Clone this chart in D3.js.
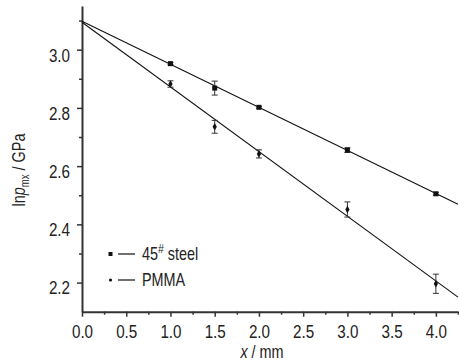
<!DOCTYPE html>
<html><head><meta charset="utf-8">
<script src="https://cdn.jsdelivr.net/npm/d3@7"></script>
<style>
html,body{margin:0;padding:0;background:#fff;}
svg{display:block;}
text{font-family:"Liberation Sans",Arial,sans-serif;fill:#222;}
</style></head>
<body>
<svg id="c" width="459" height="363"></svg>
<script>
const xs = [1.0, 1.5, 2.0, 3.0, 4.0];
const steelY = [2.952, 2.868, 2.802, 2.655, 2.505];
const steelErr = [0.004, 0.024, 0.003, 0.008, 0.005];
const pmmaY = [2.882, 2.735, 2.642, 2.451, 2.196];
const pmmaErr = [0.011, 0.022, 0.014, 0.026, 0.033];
const steelFit = [[0, 3.098], [4.25, 2.469]];
const pmmaFit = [[0, 3.094], [4.25, 2.150]];
const xTicks = [0, 0.5, 1.0, 1.5, 2.0, 2.5, 3.0, 3.5, 4.0];
const xMinor = [0.25, 0.75, 1.25, 1.75, 2.25, 2.75, 3.25, 3.75, 4.25];
const yTicks = [2.2, 2.4, 2.6, 2.8, 3.0];
const yMinor = [2.3, 2.5, 2.7, 2.9, 3.1];
const seriesNames = ["45", "PMMA"];

const SX = 0.8; // condensed glyph width
const svg = d3.select("#c");
const x = d3.scaleLinear().domain([0, 4.25]).range([82, 458]);
const y = d3.scaleLinear().domain([2.1, 3.15]).range([311.7, 6]);
const axisColor = "#333";

// X axis
const gx = svg.append("g").attr("transform", `translate(0,${y(2.1)})`);
gx.call(d3.axisBottom(x).tickValues(xTicks).tickSize(5).tickSizeOuter(0).tickFormat(d3.format(".1f")));
gx.call(g => g.select(".domain").attr("stroke", axisColor).attr("stroke-width", 2));
gx.selectAll(".tick line").attr("stroke", axisColor).attr("stroke-width", 1.5);
gx.selectAll(".tick text").attr("font-size", 19).attr("dy", "0.92em").attr("y", 9)
  .attr("transform", `scale(${SX},1)`)
  .attr("font-family", '"Liberation Sans",Arial,sans-serif').attr("fill", "#222");
const gxm = svg.append("g").attr("transform", `translate(0,${y(2.1)})`);
gxm.call(d3.axisBottom(x).tickValues(xMinor).tickSize(3).tickSizeOuter(0).tickFormat(""));
gxm.select(".domain").remove();
gxm.selectAll(".tick line").attr("stroke", axisColor).attr("stroke-width", 1.5);

// Y axis
const gy = svg.append("g").attr("transform", `translate(${x(0)},0)`);
gy.call(d3.axisLeft(y).tickValues(yTicks).tickSize(5).tickSizeOuter(0).tickFormat(d3.format(".1f")));
gy.call(g => g.select(".domain").attr("stroke", axisColor).attr("stroke-width", 2));
gy.selectAll(".tick line").attr("stroke", axisColor).attr("stroke-width", 1.5);
gy.selectAll(".tick text").attr("font-size", 19).attr("x", -12 / SX).attr("dy", "0.6em")
  .attr("transform", `scale(${SX},1)`)
  .attr("font-family", '"Liberation Sans",Arial,sans-serif').attr("fill", "#222");
const gym = svg.append("g").attr("transform", `translate(${x(0)},0)`);
gym.call(d3.axisLeft(y).tickValues(yMinor).tickSize(3).tickSizeOuter(0).tickFormat(""));
gym.select(".domain").remove();
gym.selectAll(".tick line").attr("stroke", axisColor).attr("stroke-width", 1.5);

// Fit lines
const line = d3.line().x(d => x(d[0])).y(d => y(d[1]));
[steelFit, pmmaFit].forEach(f => {
  svg.append("path").attr("d", line(f)).attr("fill", "none").attr("stroke", "#111").attr("stroke-width", 1.1);
});

// Error bars and markers
function drawSeries(vals, errs, shape) {
  const g = svg.append("g");
  xs.forEach((xv, i) => {
    const cx = x(xv), y1 = y(vals[i] + errs[i]), y2 = y(vals[i] - errs[i]);
    g.append("line").attr("x1", cx).attr("x2", cx).attr("y1", y1).attr("y2", y2).attr("stroke", "#333").attr("stroke-width", 1);
    [y1, y2].forEach(yy => g.append("line").attr("x1", cx - 3).attr("x2", cx + 3).attr("y1", yy).attr("y2", yy).attr("stroke", "#333").attr("stroke-width", 1));
    const cy = y(vals[i]);
    if (shape === "square") {
      g.append("rect").attr("x", cx - 2.5).attr("y", cy - 2.5).attr("width", 5).attr("height", 5).attr("fill", "#111");
    } else {
      g.append("path").attr("d", d3.symbol(d3.symbolDiamond, 16)()).attr("transform", `translate(${cx},${cy})`).attr("fill", "#111");
    }
  });
}
drawSeries(steelY, steelErr, "square");
drawSeries(pmmaY, pmmaErr, "diamond");

// Legend
const lg = svg.append("g");
lg.append("rect").attr("x", 108.5).attr("y", 252).attr("width", 4).attr("height", 4).attr("fill", "#111");
lg.append("line").attr("x1", 118).attr("x2", 135).attr("y1", 254).attr("y2", 254).attr("stroke", "#111").attr("stroke-width", 1.2);
const t1 = lg.append("text").attr("transform", `translate(142,260) scale(${SX},1)`).attr("font-size", 18);
t1.append("tspan").text(seriesNames[0]);
t1.append("tspan").text("#").attr("font-size", 13).attr("dy", -7);
t1.append("tspan").text(" steel").attr("dy", 7);
lg.append("circle").attr("cx", 110.5).attr("cy", 280).attr("r", 1.6).attr("fill", "#111");
lg.append("line").attr("x1", 118).attr("x2", 135).attr("y1", 280).attr("y2", 280).attr("stroke", "#111").attr("stroke-width", 1.2);
lg.append("text").attr("transform", `translate(142,286) scale(${SX},1)`).attr("font-size", 18).text(seriesNames[1]);

// Axis titles
const xt = svg.append("text").attr("transform", `translate(262,358) scale(${SX},1)`).attr("text-anchor", "middle").attr("font-size", 18);
xt.append("tspan").text("x").attr("font-style", "italic");
xt.append("tspan").text(" / mm");

const yt = svg.append("text").attr("transform", `translate(25,170) rotate(-90) scale(${SX},1)`).attr("text-anchor", "middle").attr("font-size", 18);
yt.append("tspan").text("ln");
yt.append("tspan").text("p").attr("font-style", "italic");
yt.append("tspan").text("mx").attr("font-size", 12).attr("dy", 4);
yt.append("tspan").text(" / GPa").attr("dy", -4);
</script>
</body></html>
